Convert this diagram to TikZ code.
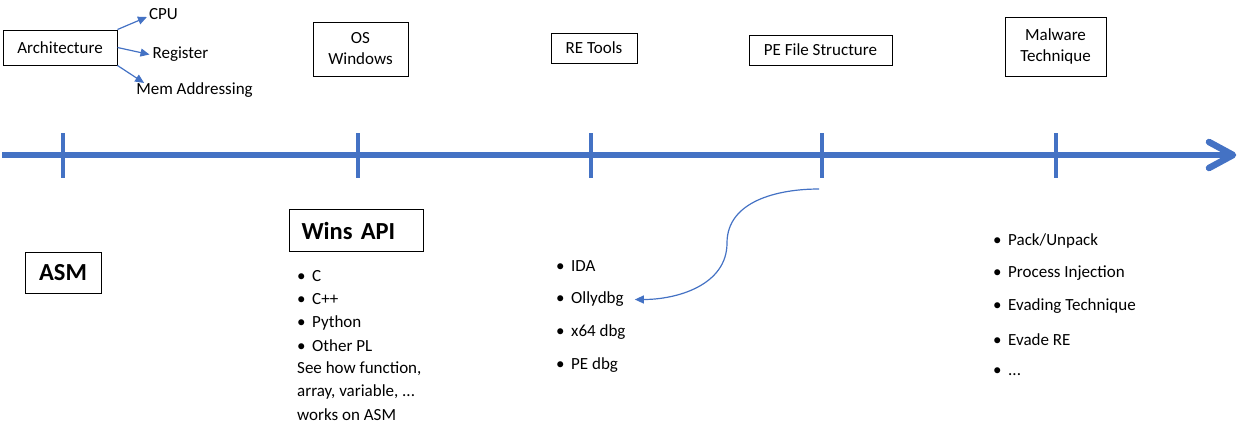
\documentclass[tikz,border=0pt]{standalone}
\usepackage{fontspec}
\setmainfont{Carlito}
\usetikzlibrary{arrows.meta,positioning,calc}

\definecolor{lineblue}{HTML}{4472C4}
\newcommand{\lstbullet}{\makebox[15pt][l]{\textbullet}}

\begin{document}
\begin{tikzpicture}[x=1pt, y=-1pt,
            every node/.style={font=\fontsize{17}{21}\selectfont, inner sep=0pt},
            topic/.style={draw, line width=1pt, align=center},
            bigtopic/.style={draw, line width=1pt, font=\fontsize{24.5}{28}\selectfont\bfseries},
            item/.style={anchor=west},
            tickmark/.style={lineblue, line width=4pt},
            link/.style={lineblue, line width=1.2pt, -{Triangle[length=9pt,width=8pt]}}]
        \useasboundingbox (0,0) rectangle (1242,424);

        % timeline
        \draw[lineblue, line width=6.5pt] (2,155) -- (1230,155);
        \draw[lineblue, line width=6.5pt, line cap=round, line join=round]
            (1209,142) -- (1233,155) -- (1209,168);
        \foreach \x/\n in {63/asm, 358/win, 591/re, 822/pe, 1056/mal} {
            \draw[tickmark] (\x,133) -- (\x,178);
            \coordinate (t\n) at (\x,155);
        }

        % topics above the line
        \node[topic, minimum width=114, minimum height=35] (arch) at (60,47.5) {Architecture};
        \node (cpu) at (163.5,14) {CPU};
        \node (reg) at (180.5,54.5) {Register};
        \node (mem) at (194.5,90.5) {Mem Addressing};
        \draw[link] (arch.north east) -- ($(cpu.west)+(-2,3)$);
        \draw[link] (arch.east) -- ($(reg.west)+(-3,0)$);
        \draw[link] (arch.south east) -- ($(mem.north west)+(8,0)$);

        \node[topic, minimum width=95, minimum height=54] (os) at (360.5,49) {OS\\Windows};
        \node[topic, minimum width=86, minimum height=30] (tools) at (594,48) {RE Tools};
        \node[topic, minimum width=143, minimum height=30] (pefile) at (820.5,50) {PE File Structure};
        \node[topic, minimum width=101, minimum height=59] (malware) at (1055.5,46.5) {Malware\\Technique};

        % below the line
        \node[bigtopic, minimum width=76, minimum height=41] (asm) at (63,272.5) {ASM};
        \node[bigtopic, anchor=north west, inner xsep=12pt, text width=110pt, align=left,
              minimum height=42] (api) at (289,209) {Wins API};

        \foreach \t [count=\i] in {C, C++, Python, Other PL}
            \node[item] (api\i) at (297,253.5+23*\i) {\lstbullet\t};
        \node[item] (note1) at (297,368.5) {See how function,};
        \node[item] (note2) at (297,391.5) {array, variable, ...};
        \node[item] (note3) at (297,414.5) {works on ASM};

        \foreach \t [count=\i] in {IDA, Ollydbg, x64 dbg, PE dbg}
            \node[item] (re\i) at (556,233.5+33*\i) {\lstbullet\t};

        \foreach \t [count=\i] in {Pack/Unpack, Process Injection, Evading Technique, Evade RE}
            \node[item] (mal\i) at (993,207.5+33*\i) {\lstbullet\t};
        \node[item] (mal5) at (993,372) {\lstbullet...};

        \coordinate (pestart) at (819,189);
        \draw[link] (pestart) to[out=180, in=90] (727,243)
            to[out=-90, in=0] ($(re2.east)+(11,0)$);
\end{tikzpicture}
\end{document}
